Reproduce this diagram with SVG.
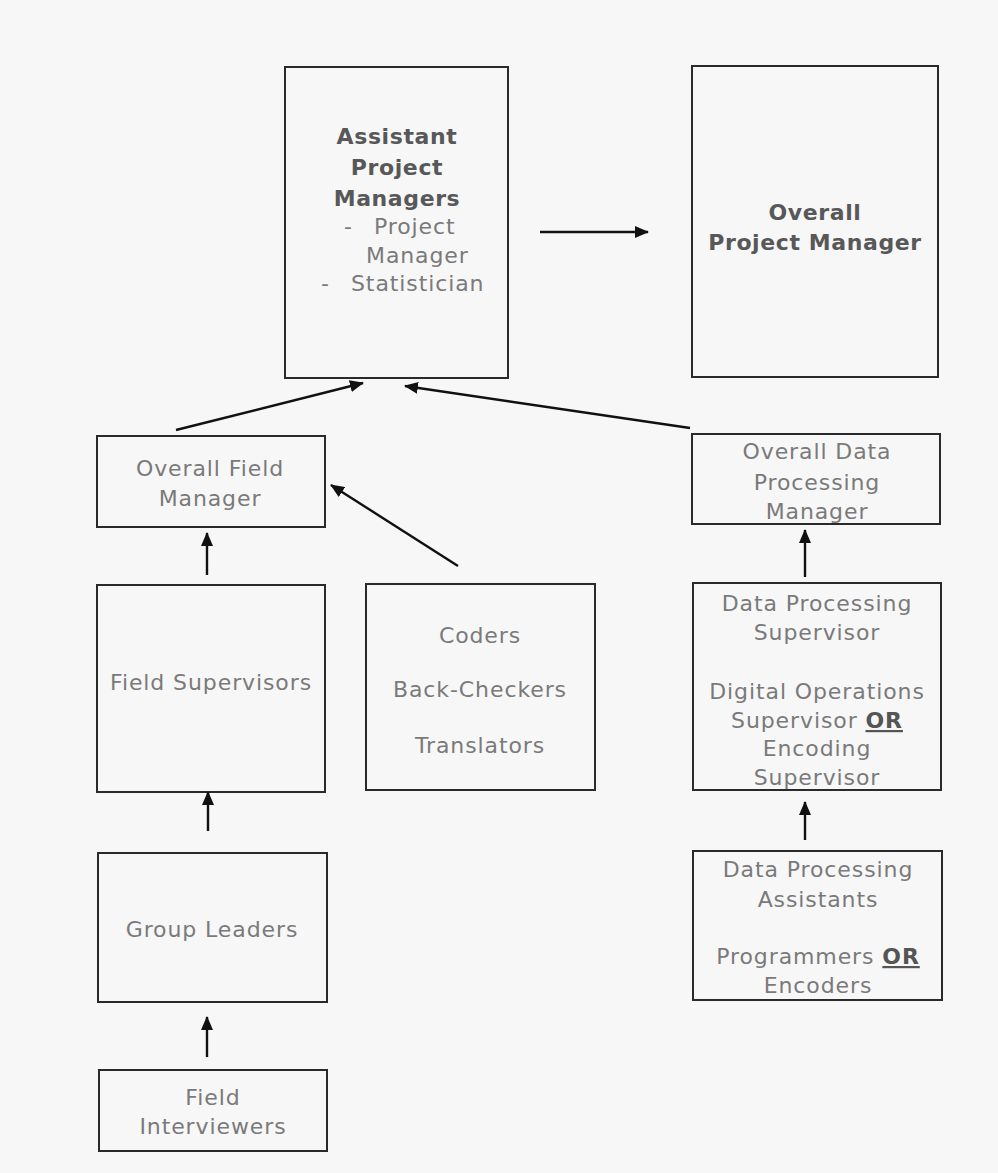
<svg xmlns="http://www.w3.org/2000/svg" width="998" height="1173" viewBox="0 0 998 1173">
<defs>
<marker id="ah" viewBox="0 0 14 12" refX="13" refY="6" markerWidth="14" markerHeight="12" markerUnits="userSpaceOnUse" orient="auto">
<path d="M0,0 L14,6 L0,12 Z" fill="#111"/>
</marker>
</defs>
<style>
.box{fill:none;stroke:#2a2a2a;stroke-width:2}
.t{font-family:"DejaVu Sans",Verdana,sans-serif;font-size:22px;letter-spacing:0.9px;fill:#7a7a7a;text-anchor:middle}
.s{text-anchor:start}
.b{font-weight:bold;fill:#585858;letter-spacing:0.6px}
.or{font-weight:bold;fill:#555;text-decoration:underline}
.c{stroke:#111;stroke-width:2.4;fill:none;marker-end:url(#ah)}
</style>
<rect width="998" height="1173" fill="#f7f7f8"/>
<g id="assistant-pm">
<rect class="box" x="285" y="67" width="223" height="311"/>
<text class="t b" x="397" y="144">Assistant</text>
<text class="t b" x="397" y="175">Project</text>
<text class="t b" x="397" y="206">Managers</text>
<text class="t s" x="344" y="234">-</text>
<text class="t s" x="374" y="234">Project</text>
<text class="t s" x="366" y="263">Manager</text>
<text class="t s" x="321" y="291">-</text>
<text class="t s" x="351" y="291">Statistician</text>
</g>
<g id="overall-pm">
<rect class="box" x="692" y="66" width="246" height="311"/>
<text class="t b" x="815" y="220">Overall</text>
<text class="t b" x="815" y="250">Project Manager</text>
</g>
<g id="overall-field-manager">
<rect class="box" x="97" y="436" width="228" height="91"/>
<text class="t" x="210" y="476">Overall Field</text>
<text class="t" x="210" y="506">Manager</text>
</g>
<g id="overall-dp-manager">
<rect class="box" x="692" y="434" width="248" height="90"/>
<text class="t" x="817" y="459">Overall Data</text>
<text class="t" x="817" y="490">Processing</text>
<text class="t" x="817" y="519">Manager</text>
</g>
<g id="field-supervisors">
<rect class="box" x="97" y="585" width="228" height="207"/>
<text class="t" x="211" y="690">Field Supervisors</text>
</g>
<g id="coders">
<rect class="box" x="366" y="584" width="229" height="206"/>
<text class="t" x="480" y="643">Coders</text>
<text class="t" x="480" y="697">Back-Checkers</text>
<text class="t" x="480" y="753">Translators</text>
</g>
<g id="dp-supervisor">
<rect class="box" x="693" y="583" width="248" height="207"/>
<text class="t" x="817" y="611">Data Processing</text>
<text class="t" x="817" y="640">Supervisor</text>
<text class="t" x="817" y="699">Digital Operations</text>
<text class="t" x="817" y="728">Supervisor <tspan class="or">OR</tspan></text>
<text class="t" x="817" y="756">Encoding</text>
<text class="t" x="817" y="785">Supervisor</text>
</g>
<g id="group-leaders">
<rect class="box" x="98" y="853" width="229" height="149"/>
<text class="t" x="212" y="937">Group Leaders</text>
</g>
<g id="dp-assistants">
<rect class="box" x="693" y="851" width="249" height="149"/>
<text class="t" x="818" y="877">Data Processing</text>
<text class="t" x="818" y="907">Assistants</text>
<text class="t" x="818" y="964">Programmers <tspan class="or">OR</tspan></text>
<text class="t" x="818" y="993">Encoders</text>
</g>
<g id="field-interviewers">
<rect class="box" x="99" y="1070" width="228" height="81"/>
<text class="t" x="213" y="1105">Field</text>
<text class="t" x="213" y="1134">Interviewers</text>
</g>
<g id="connectors">
<line class="c" x1="540" y1="232" x2="648" y2="232"/>
<line class="c" x1="176" y1="430" x2="363" y2="383"/>
<line class="c" x1="690" y1="428" x2="405" y2="386"/>
<line class="c" x1="207" y1="575" x2="207" y2="533"/>
<line class="c" x1="458" y1="566" x2="331" y2="485"/>
<line class="c" x1="805" y1="577" x2="805" y2="530"/>
<line class="c" x1="208" y1="831" x2="208" y2="792"/>
<line class="c" x1="805" y1="840" x2="805" y2="802"/>
<line class="c" x1="207" y1="1057" x2="207" y2="1017"/>
</g>
</svg>
